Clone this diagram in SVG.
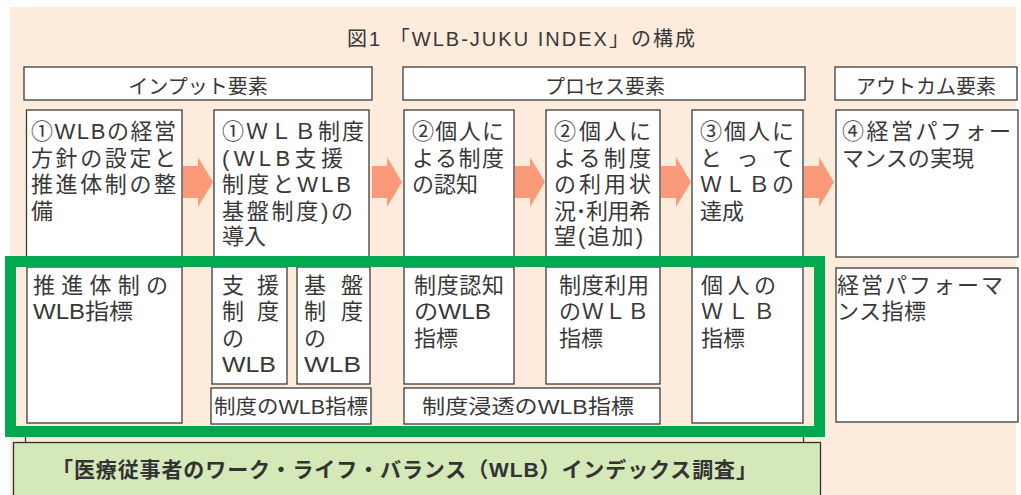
<svg xmlns="http://www.w3.org/2000/svg" width="1021" height="495" viewBox="0 0 1021 495">
<defs>
<style>
.bx{fill:#fff;stroke:#3c3c3c;stroke-width:1.3}
.t{font-family:"Liberation Sans","Noto Sans CJK JP",sans-serif;font-size:22px;fill:#383838}
.h{font-family:"Liberation Sans","Noto Sans CJK JP",sans-serif;font-size:20px;fill:#383838;text-anchor:middle}
.s{font-family:"Liberation Sans","Noto Sans CJK JP",sans-serif;font-size:20px;fill:#383838}
.ar{fill:#fa9a78}
</style>
<path id="arw" d="M0,-16 L15,-16 L15,-25 L30,0 L15,25 L15,16 L0,16 Z"/>
</defs>
<rect x="0" y="0" width="1021" height="495" fill="#fff"/>
<rect x="10" y="7" width="1006" height="488" fill="#fdebdc"/>
<text class="s" x="347" y="46" textLength="348" lengthAdjust="spacing">図1 「WLB-JUKU INDEX」の構成</text>

<g id="hdr-input"><rect class="bx" x="24" y="67" width="348" height="33"/><text class="h" x="198" y="94">インプット要素</text></g>
<g id="hdr-process"><rect class="bx" x="403" y="67" width="402" height="33"/><text class="h" x="605" y="94">プロセス要素</text></g>
<g id="hdr-outcome"><rect class="bx" x="835" y="67" width="182" height="33"/><text class="h" x="926" y="94">アウトカム要素</text></g>

<g id="connectors">
<use href="#arw" class="ar" x="183" y="182"/>
<use href="#arw" class="ar" x="372" y="182"/>
<use href="#arw" class="ar" x="515" y="182"/>
<use href="#arw" class="ar" x="661" y="182"/>
<use href="#arw" class="ar" x="804" y="182"/>
</g>

<g id="n-policy"><rect class="bx" x="26.5" y="110" width="155.5" height="150"/>
<text class="t" x="31" y="139" textLength="145" lengthAdjust="spacing">①WLBの経営</text>
<text class="t" x="31" y="165.5" textLength="145" lengthAdjust="spacing">方針の設定と</text>
<text class="t" x="31" y="192" textLength="145" lengthAdjust="spacing">推進体制の整</text>
<text class="t" x="31" y="218.5">備</text></g>

<g id="n-system"><rect class="bx" x="214" y="110" width="155" height="150"/>
<text class="t" x="222" y="139" textLength="142" lengthAdjust="spacing">①ＷＬＢ制度</text>
<text class="t" x="222" y="165.5" textLength="121" lengthAdjust="spacing">(WLB支援</text>
<text class="t" x="222" y="192" textLength="129" lengthAdjust="spacing">制度とWLB</text>
<text class="t" x="222" y="218.5" textLength="131" lengthAdjust="spacing">基盤制度)の</text>
<text class="t" x="222" y="244">導入</text></g>

<g id="n-aware"><rect class="bx" x="404" y="110" width="110" height="150"/>
<text class="t" x="412" y="139" textLength="92" lengthAdjust="spacing">②個人に</text>
<text class="t" x="412" y="165.5" textLength="92" lengthAdjust="spacing">よる制度</text>
<text class="t" x="412" y="192">の認知</text></g>

<g id="n-use"><rect class="bx" x="546" y="110" width="114" height="150"/>
<text class="t" x="554" y="139" textLength="97" lengthAdjust="spacing">②個人に</text>
<text class="t" x="554" y="165.5" textLength="97" lengthAdjust="spacing">よる制度</text>
<text class="t" x="554" y="192" textLength="97" lengthAdjust="spacing">の利用状</text>
<text class="t" x="554" y="218.5" textLength="97" lengthAdjust="spacing">況･利用希</text>
<text class="t" x="554" y="244" textLength="89" lengthAdjust="spacing">望(追加)</text></g>

<g id="n-achieve"><rect class="bx" x="692" y="110" width="111" height="150"/>
<text class="t" x="700" y="139" textLength="94" lengthAdjust="spacing">③個人に</text>
<text class="t" x="700" y="165.5" textLength="94" lengthAdjust="spacing">とって</text>
<text class="t" x="700" y="192" textLength="94" lengthAdjust="spacing">ＷＬＢの</text>
<text class="t" x="700" y="218.5">達成</text></g>

<g id="n-perf"><rect class="bx" x="836" y="110" width="182" height="147"/>
<text class="t" x="842" y="139" textLength="169" lengthAdjust="spacing">④経営パフォー</text>
<text class="t" x="842" y="165.5" textLength="132" lengthAdjust="spacing">マンスの実現</text></g>

<g id="i-policy"><rect class="bx" x="27" y="267" width="155" height="156"/>
<text class="t" x="33" y="292.5" textLength="135" lengthAdjust="spacing">推進体制の</text>
<text class="t" x="33" y="319" textLength="100" lengthAdjust="spacingAndGlyphs">WLB指標</text></g>

<g id="i-support"><rect class="bx" x="212" y="267" width="75" height="117"/>
<text class="t" x="222" y="292.5" textLength="57" lengthAdjust="spacing">支援</text>
<text class="t" x="222" y="319" textLength="57" lengthAdjust="spacing">制度</text>
<text class="t" x="222" y="345.5">の</text>
<text class="t" x="222" y="372" textLength="54" lengthAdjust="spacingAndGlyphs">WLB</text></g>

<g id="i-base"><rect class="bx" x="297" y="267" width="73" height="117"/>
<text class="t" x="304" y="292.5" textLength="59" lengthAdjust="spacing">基盤</text>
<text class="t" x="304" y="319" textLength="59" lengthAdjust="spacing">制度</text>
<text class="t" x="304" y="345.5">の</text>
<text class="t" x="304" y="372" textLength="57" lengthAdjust="spacingAndGlyphs">WLB</text></g>

<g id="i-system"><rect class="bx" x="211" y="388" width="160" height="36"/>
<text class="s" x="214" y="414" textLength="154" lengthAdjust="spacingAndGlyphs">制度のWLB指標</text></g>

<g id="i-aware"><rect class="bx" x="404" y="267" width="110" height="117"/>
<text class="t" x="414" y="292.5" textLength="90" lengthAdjust="spacing">制度認知</text>
<text class="t" x="414" y="319" textLength="77" lengthAdjust="spacingAndGlyphs">のWLB</text>
<text class="t" x="414" y="345.5">指標</text></g>

<g id="i-use"><rect class="bx" x="546" y="267" width="114" height="117"/>
<text class="t" x="559" y="292.5" textLength="90" lengthAdjust="spacing">制度利用</text>
<text class="t" x="559" y="319" textLength="90" lengthAdjust="spacing">のＷＬＢ</text>
<text class="t" x="559" y="345.5">指標</text></g>

<g id="i-penetration"><rect class="bx" x="404" y="388" width="256" height="36"/>
<text class="s" x="422" y="414" textLength="212" lengthAdjust="spacingAndGlyphs">制度浸透のWLB指標</text></g>

<g id="i-personal"><rect class="bx" x="692" y="267" width="111" height="156"/>
<text class="t" x="701" y="292.5" textLength="75" lengthAdjust="spacing">個人の</text>
<text class="t" x="701" y="319" textLength="74" lengthAdjust="spacing">ＷＬＢ</text>
<text class="t" x="701" y="345.5">指標</text></g>

<g id="i-perf"><rect class="bx" x="836" y="268" width="182" height="154"/>
<text class="t" x="837" y="292.5" textLength="166" lengthAdjust="spacing">経営パフォーマ</text>
<text class="t" x="837" y="319" textLength="89" lengthAdjust="spacing">ンス指標</text></g>

<g id="frame-lines" stroke="#3c3c3c" stroke-width="1.3">
<line x1="25.5" y1="436" x2="25.5" y2="443"/>
<line x1="803.5" y1="436" x2="803.5" y2="443"/>
</g>

<g id="highlight"><rect x="10.5" y="261.5" width="809" height="170" fill="none" stroke="#00a84f" stroke-width="11"/></g>

<g id="survey"><rect x="13.5" y="442.5" width="807" height="60" fill="#d5e8b8" stroke="#333" stroke-width="1.3"/>
<text x="52" y="477" textLength="705" lengthAdjust="spacing" style="font-family:'Liberation Sans','Noto Sans CJK JP',sans-serif;font-size:21px;font-weight:bold;fill:#333">「医療従事者のワーク・ライフ・バランス（WLB）インデックス調査」</text></g>
</svg>
